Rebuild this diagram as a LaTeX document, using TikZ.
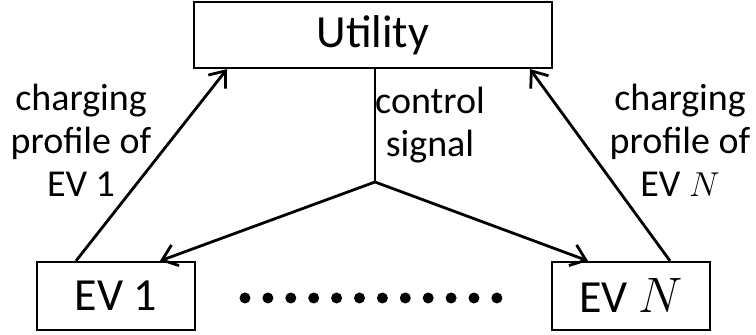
\documentclass[tikz,border=0pt]{standalone}
\usepackage{fontspec}
\setmainfont{Carlito}
\usetikzlibrary{arrows.meta,positioning}

\begin{document}
\begin{tikzpicture}[x=0.5pt,y=0.5pt,
  box/.style={draw,line width=1.1pt,inner sep=0pt,font=\fontsize{23}{27}\selectfont},
  lbl/.style={align=center,font=\fontsize{19}{21.5}\selectfont},
  link/.style={line width=1.4pt,-{Straight Barb[length=7pt,width=11pt,line width=1.4pt]}}]
\useasboundingbox (0,0) rectangle (756,335);
\node[box,minimum width=179pt,minimum height=33pt] (utility) at (373,300) {Utility};
\node[box,minimum width=79pt,minimum height=34pt] (ev1) at (116,39) {EV 1};
\node[box,minimum width=79pt,minimum height=34pt] (evn) at (631,39) {EV $N$};
\coordinate (split) at (375,153);
% uplinks from the cars
\draw[link] ([xshift=-20pt]ev1.north) -- ([xshift=-73pt]utility.south);
\draw[link] ([xshift=19.5pt]evn.north) -- ([xshift=78.5pt]utility.south);
% signal going down
\draw[line width=1.4pt] ([xshift=1pt]utility.south) -- (split);
\draw[link] (split) -- ([xshift=22pt]ev1.north);
\draw[link] (split) -- ([xshift=-21.5pt]evn.north);
\node[lbl] (lp1) at (81,195) {charging\\profile of\\EV 1};
\node[lbl] (lpn) at (680,195) {charging\\profile of\\EV $N$};
\node[lbl] (sig) at (430,210) {control\\signal};
\foreach \i in {0,...,11}
  \fill (245+\i*22.9,37) circle (2.75pt);
\end{tikzpicture}
\end{document}
